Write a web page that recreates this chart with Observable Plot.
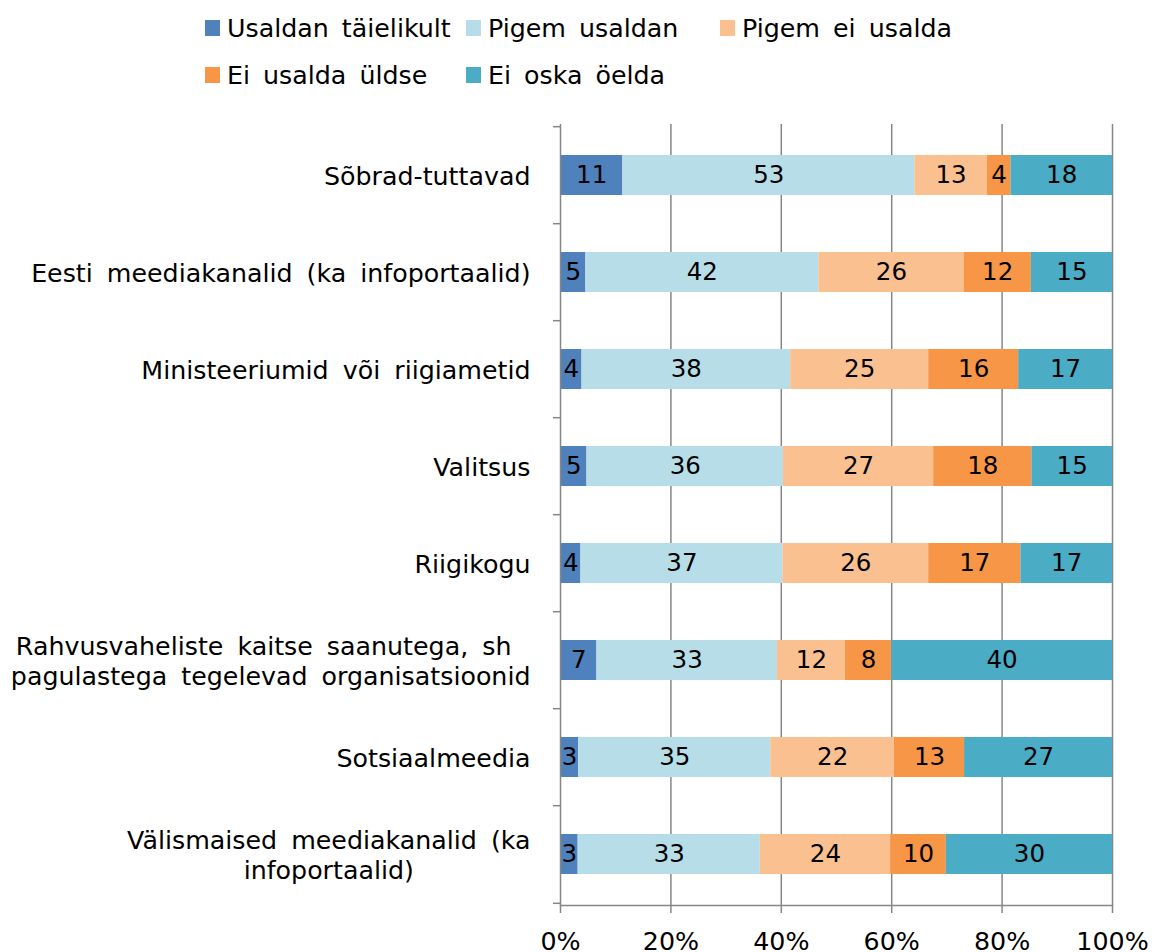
<!DOCTYPE html>
<html>
<head>
<meta charset="utf-8">
<script src="https://cdn.jsdelivr.net/npm/d3@7"></script>
<script src="https://cdn.jsdelivr.net/npm/@observablehq/plot@0.6"></script>
<style>
  html, body { margin: 0; padding: 0; background: #fff; }
  body { width: 1154px; height: 952px; position: relative; overflow: hidden; font-family: "DejaVu Sans", Verdana, sans-serif; }
  #legend { position: absolute; left: 0; top: 0; width: 1154px; height: 100px; }
  .item { position: absolute; display: flex; align-items: center; font-size: 25.3px; color: #000; white-space: nowrap; word-spacing: 5px; }
  .sw { width: 15px; height: 16px; margin-right: 7px; }
  #chart { position: absolute; left: 0; top: 100px; }
  #chart g[aria-label="y-axis tick label"] text { word-spacing: 6px; white-space: pre; }
</style>
</head>
<body>
<div id="legend"></div>
<div id="chart"></div>
<script>
const categories = [
  "Sõbrad-tuttavad",
  "Eesti meediakanalid (ka infoportaalid)",
  "Ministeeriumid või riigiametid",
  "Valitsus",
  "Riigikogu",
  "Rahvusvaheliste kaitse saanutega, sh \npagulastega tegelevad organisatsioonid",
  "Sotsiaalmeedia",
  "Välismaised meediakanalid (ka\ninfoportaalid)"
];
const seriesNames = ["Usaldan täielikult", "Pigem usaldan", "Pigem ei usalda", "Ei usalda üldse", "Ei oska öelda"];
const seriesColors = ["#4F81BD", "#B7DEE8", "#FAC090", "#F79646", "#4BACC6"];

const usaldanTaielikult = [11.3, 4.6, 3.9, 4.8, 3.7, 6.6, 3.3, 3.2];
const pigemUsaldan      = [52.9, 42.2, 37.8, 35.6, 36.6, 32.7, 34.8, 33.0];
const pigemEiUsalda     = [13.1, 26.3, 25.0, 27.2, 26.4, 12.3, 22.4, 23.6];
const eiUsaldaUldse     = [4.3, 12.2, 16.3, 17.8, 16.7, 8.4, 12.7, 10.1];
const eiOskaOelda       = [18.4, 14.7, 17.0, 14.6, 16.6, 40.0, 26.8, 30.1];

const xTicks = [0, 0.2, 0.4, 0.6, 0.8, 1];
const xTickLabels = ["0%", "20%", "40%", "60%", "80%", "100%"];

const seriesValues = [usaldanTaielikult, pigemUsaldan, pigemEiUsalda, eiUsaldaUldse, eiOskaOelda];
const data = [];
categories.forEach((c, i) => {
  seriesNames.forEach((s, j) => data.push({cat: c, series: s, value: seriesValues[j][i]}));
});

// legend
const legendPos = [[205, 28], [466, 28], [720, 28], [205, 75], [466, 75]];
const legend = document.getElementById("legend");
seriesNames.forEach((s, j) => {
  const it = document.createElement("div");
  it.className = "item";
  it.style.left = legendPos[j][0] + "px";
  it.style.top = (legendPos[j][1] - 15) + "px";
  it.style.height = "30px";
  const sw = document.createElement("span");
  sw.className = "sw";
  sw.style.background = seriesColors[j];
  const tx = document.createElement("span");
  tx.textContent = s;
  it.appendChild(sw); it.appendChild(tx);
  legend.appendChild(it);
});

const W = 1154, H = 852;
const mTop = 24, mBottom = 47, mLeft = 560, mRight = 42;
const step = (H - mTop - mBottom) / categories.length;
const gray = "#868686";
const font = "DejaVu Sans, Verdana, sans-serif";
const stackOpts = {offset: "normalize", order: seriesNames};

const chart = Plot.plot({
  width: W, height: H,
  marginTop: mTop, marginBottom: mBottom, marginLeft: mLeft, marginRight: mRight,
  style: {fontFamily: font, fontSize: "24px", color: "#000", background: "#fff"},
  x: {domain: [0, 1], axis: null},
  y: {domain: categories, paddingInner: 0.59, paddingOuter: 0.295, axis: null},
  color: {domain: seriesNames, range: seriesColors},
  marks: [
    Plot.gridX(xTicks.slice(1), {stroke: gray, strokeOpacity: 1, strokeWidth: 1.5}),
    Plot.barX(data, Plot.stackX(stackOpts, {x: "value", y: "cat", fill: "series", z: "series"})),
    Plot.text(data, Plot.stackX(stackOpts, {x: "value", y: "cat", z: "series", text: d => String(Math.round(d.value)), fill: "#000", fontSize: 24.5})),
    Plot.ruleX([0], {stroke: gray, strokeWidth: 1.5}),
    Plot.frame({anchor: "bottom", stroke: gray, strokeWidth: 1.5}),
    Plot.axisX(xTicks, {tickFormat: (d, i) => xTickLabels[i], tickSize: 8, tickPadding: 19, stroke: gray, strokeWidth: 1.5, fill: "#000", fontSize: 25.3, label: null}),
    Plot.axisY({tickSize: 0, tickPadding: 30, fontSize: 25.3, fill: "#000", lineHeight: 1.17, label: null}),
    Plot.axisY({tickFormat: null, tickSize: 7, dy: -step / 2, stroke: gray, strokeWidth: 1.5, label: null}),
    Plot.axisY([categories[categories.length - 1]], {tickFormat: null, tickSize: 7, dy: step / 2, stroke: gray, strokeWidth: 1.5, label: null})
  ]
});
document.getElementById("chart").appendChild(chart);

// center multi-line category labels within their block (as in the original)
chart.querySelectorAll("text").forEach(t => {
  const spans = t.querySelectorAll("tspan");
  if (spans.length > 1 && t.closest('[aria-label="y-axis tick label"]')) {
    let maxW = 0;
    spans.forEach(s => { maxW = Math.max(maxW, s.getComputedTextLength()); });
    const bb = t.getBBox();
    const right = bb.x + bb.width;
    const cx = right - maxW / 2;
    t.setAttribute("text-anchor", "middle");
    spans.forEach(s => s.setAttribute("x", cx));
  }
});
</script>
</body>
</html>
